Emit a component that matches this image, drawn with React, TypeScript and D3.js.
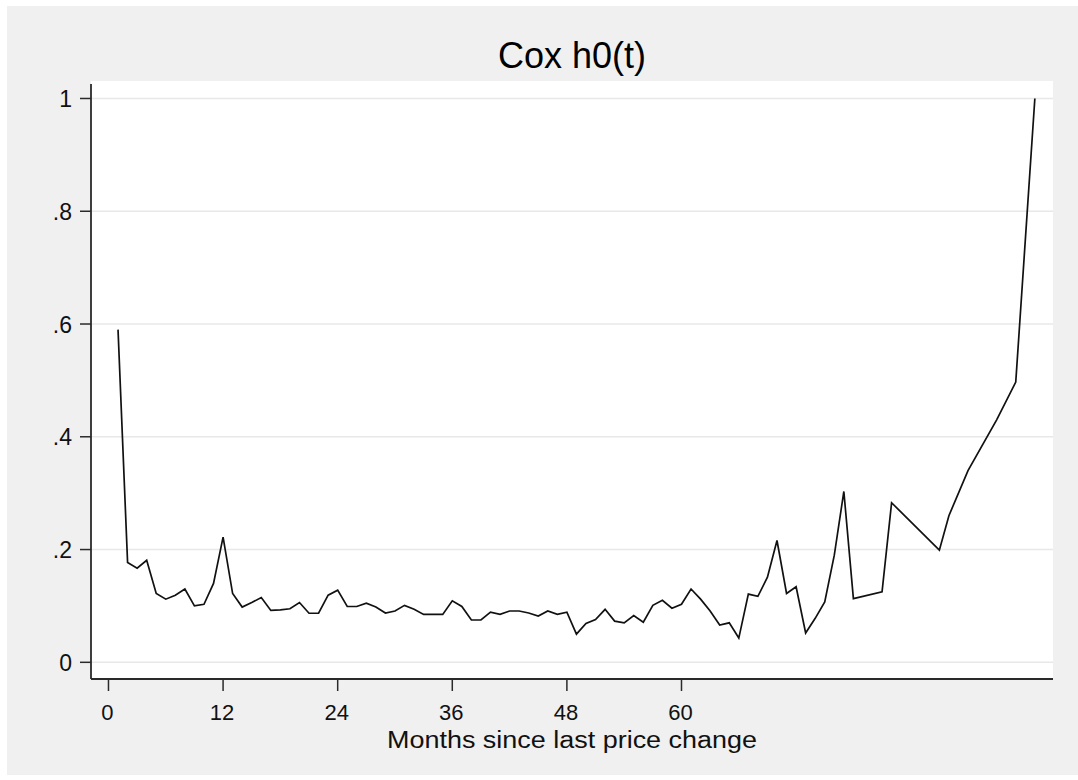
import React from "react";
import * as d3 from "d3";

const months: number[] = [
  1, 2, 3, 4, 5, 6, 7, 8, 9, 10, 11, 12, 13, 14, 15, 16, 17, 18, 19, 20,
  21, 22, 23, 24, 25, 26, 27, 28, 29, 30, 31, 32, 33, 34, 35, 36, 37, 38, 39, 40,
  41, 42, 43, 44, 45, 46, 47, 48, 49, 50, 51, 52, 53, 54, 55, 56, 57, 58, 59, 60,
  61, 62, 63, 64, 65, 66, 67, 68, 69, 70, 71, 72, 73, 74, 75, 76, 77, 78,
  81, 82, 87, 88, 90, 93, 95, 97,
];

const hazard: number[] = [
  0.59, 0.177, 0.167, 0.181, 0.122, 0.112, 0.119, 0.13, 0.1, 0.103,
  0.14, 0.222, 0.122, 0.098, 0.106, 0.115, 0.092, 0.093, 0.095, 0.106,
  0.087, 0.087, 0.119, 0.128, 0.099, 0.099, 0.105, 0.098, 0.0875, 0.091,
  0.101, 0.094, 0.085, 0.085, 0.085, 0.109, 0.099, 0.075, 0.075, 0.089,
  0.085, 0.091, 0.091, 0.0875, 0.082, 0.091, 0.085, 0.089, 0.05, 0.069,
  0.076, 0.094, 0.073, 0.07, 0.083, 0.071, 0.101, 0.11, 0.096, 0.103,
  0.13, 0.112, 0.091, 0.066, 0.07, 0.043, 0.121, 0.117, 0.151, 0.216,
  0.122, 0.134, 0.052, 0.078, 0.107, 0.19, 0.303, 0.113,
  0.125, 0.283, 0.199, 0.26, 0.34, 0.43, 0.497, 1.0,
];

const xTicks: number[] = [0, 12, 24, 36, 48, 60];
const yTicks: number[] = [0, 0.2, 0.4, 0.6, 0.8, 1];
const yTickLabels: string[] = ["0", ".2", ".4", ".6", ".8", "1"];

const title = "Cox h0(t)";
const xTitle = "Months since last price change";

export default function App() {
  const W = 1078;
  const H = 780;
  const left = 91;
  const right = 1053;
  const top = 81;
  const bottom = 679;

  const x = d3.scaleLinear().domain([-1.83, 98.9]).range([left, right]);
  const y = d3.scaleLinear().domain([-0.0296, 1.031]).range([bottom, top]);

  const data = months.map((m, i) => ({ m, v: hazard[i] }));
  const line = d3
    .line<{ m: number; v: number }>()
    .x((d) => x(d.m))
    .y((d) => y(d.v));

  const font = "'Liberation Sans', Arial, sans-serif";

  return (
    <svg
      width={W}
      height={H}
      style={{ position: "absolute", left: 0, top: 0, display: "block", background: "#ffffff" }}
    >
      <rect x={7} y={6} width={W - 7} height={769} fill="#f0f0f0" />
      <rect x={left} y={top} width={right - left} height={bottom - top} fill="#ffffff" />
      {yTicks.map((t) => (
        <line
          key={"g" + t}
          x1={left}
          x2={right}
          y1={y(t)}
          y2={y(t)}
          stroke="#e8e8e8"
          strokeWidth={1.5}
        />
      ))}
      <path d={line(data) || ""} fill="none" stroke="#111111" strokeWidth={1.7} strokeLinejoin="miter" />
      <line x1={left} x2={left} y1={84} y2={bottom} stroke="#2a2a2a" strokeWidth={1.8} />
      <line x1={left} x2={right} y1={bottom} y2={bottom} stroke="#2a2a2a" strokeWidth={1.8} />
      {yTicks.map((t, i) => (
        <g key={"y" + t}>
          <line x1={80} x2={left} y1={y(t)} y2={y(t)} stroke="#2a2a2a" strokeWidth={1.5} />
          <text
            x={72}
            y={y(t) + 8.5}
            textAnchor="end"
            fontFamily={font}
            fontSize={23}
            fill="#111"
          >
            {yTickLabels[i]}
          </text>
        </g>
      ))}
      {xTicks.map((t) => (
        <g key={"x" + t}>
          <line x1={x(t)} x2={x(t)} y1={bottom} y2={691} stroke="#2a2a2a" strokeWidth={1.5} />
          <text
            x={x(t) - 1}
            y={720}
            textAnchor="middle"
            fontFamily={font}
            fontSize={22}
            fill="#111"
          >
            {t}
          </text>
        </g>
      ))}
      <text
        x={(left + right) / 2}
        y={748}
        textAnchor="middle"
        fontFamily={font}
        fontSize={23}
        textLength={370}
        lengthAdjust="spacingAndGlyphs"
        fill="#111"
      >
        {xTitle}
      </text>
      <text
        x={572}
        y={68}
        textAnchor="middle"
        fontFamily={font}
        fontSize={36}
        fill="#000"
      >
        {title}
      </text>
    </svg>
  );
}
